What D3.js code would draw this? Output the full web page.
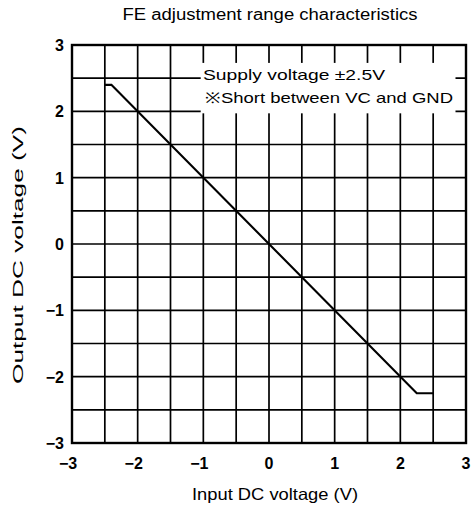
<!DOCTYPE html>
<html>
<head>
<meta charset="utf-8">
<script src="https://cdn.jsdelivr.net/npm/d3@7"></script>
<style>
  html, body { margin: 0; padding: 0; background: #fff; }
  svg { display: block; font-family: "Liberation Sans", Arial, Helvetica, sans-serif; }
</style>
</head>
<body>
<svg id="chart" width="475" height="511"></svg>
<script>
// ---- data ----
const titleText = "FE adjustment range characteristics";
const xLabel = "Input DC voltage (V)";
const yLabel = "Output DC voltage (V)";
const xTickValues = [-3, -2, -1, 0, 1, 2, 3];
const yTickValues = [-3, -2, -1, 0, 1, 2, 3];
const gridValues = [-2.5, -2, -1.5, -1, -0.5, 0, 0.5, 1, 1.5, 2, 2.5];
const inputV  = [-2.5, -2.4, 2.25, 2.5];
const outputV = [2.4, 2.4, -2.25, -2.25];
const legendLines = ["Supply voltage \u00B12.5V", "\u203BShort between VC and GND"];

// ---- layout ----
const svg = d3.select("#chart");
const margin = {left: 72, right: 9, top: 45, bottom: 68};
const W = 475, H = 511;
const x = d3.scaleLinear().domain([-3, 3]).range([margin.left, W - margin.right]);
const y = d3.scaleLinear().domain([-3, 3]).range([H - margin.bottom, margin.top]);
const fmt = v => (v < 0 ? "\u2212" + Math.abs(v) : String(v));

// title
svg.append("text")
  .attr("x", 270).attr("y", 20)
  .attr("text-anchor", "middle")
  .attr("font-size", 16)
  .attr("textLength", 295).attr("lengthAdjust", "spacingAndGlyphs")
  .text(titleText);

// grid
const g = svg.append("g");
g.selectAll("line.v").data(gridValues).join("line")
  .attr("x1", d => x(d)).attr("x2", d => x(d))
  .attr("y1", y(3)).attr("y2", y(-3))
  .attr("stroke", "#000").attr("stroke-width", 1.7);
g.selectAll("line.h").data(gridValues).join("line")
  .attr("y1", d => y(d)).attr("y2", d => y(d))
  .attr("x1", x(-3)).attr("x2", x(3))
  .attr("stroke", "#000").attr("stroke-width", 1.7);

// legend box (clears grid)
const lx0 = x(-1.04), lx1 = x(2.84), ly0 = y(2.73), ly1 = y(1.97);
svg.append("rect")
  .attr("x", lx0).attr("y", ly0)
  .attr("width", lx1 - lx0).attr("height", ly1 - ly0)
  .attr("fill", "#fff");
svg.append("text")
  .attr("x", 203).attr("y", 80)
  .attr("font-size", 15)
  .attr("textLength", 182).attr("lengthAdjust", "spacingAndGlyphs")
  .text(legendLines[0]);
svg.append("text")
  .attr("x", 205).attr("y", 103)
  .attr("font-size", 15)
  .attr("textLength", 248).attr("lengthAdjust", "spacingAndGlyphs")
  .text(legendLines[1]);

// frame
svg.append("rect")
  .attr("x", x(-3)).attr("y", y(3))
  .attr("width", x(3) - x(-3)).attr("height", y(-3) - y(3))
  .attr("fill", "none").attr("stroke", "#000").attr("stroke-width", 2.4);

// data line
const pts = inputV.map((v, i) => [v, outputV[i]]);
svg.append("path")
  .attr("d", d3.line().x(d => x(d[0])).y(d => y(d[1]))(pts))
  .attr("fill", "none").attr("stroke", "#000").attr("stroke-width", 2.2);

// x tick labels
svg.append("g").selectAll("text").data(xTickValues).join("text")
  .attr("x", d => x(d) + (d < 0 ? -4 : 0)).attr("y", 469)
  .attr("text-anchor", "middle")
  .attr("font-size", 16).attr("font-weight", "bold")
  .text(fmt);

// y tick labels
svg.append("g").selectAll("text").data(yTickValues).join("text")
  .attr("x", 64).attr("y", d => y(d) + 6)
  .attr("text-anchor", "end")
  .attr("font-size", 16).attr("font-weight", "bold")
  .text(fmt);

// axis titles
svg.append("text")
  .attr("x", 275).attr("y", 500)
  .attr("text-anchor", "middle")
  .attr("font-size", 16.5)
  .attr("textLength", 166).attr("lengthAdjust", "spacingAndGlyphs")
  .text(xLabel);
svg.append("text")
  .attr("transform", "translate(23,255) rotate(-90)")
  .attr("text-anchor", "middle")
  .attr("font-size", 15)
  .attr("textLength", 258).attr("lengthAdjust", "spacingAndGlyphs")
  .text(yLabel);
</script>
</body>
</html>
